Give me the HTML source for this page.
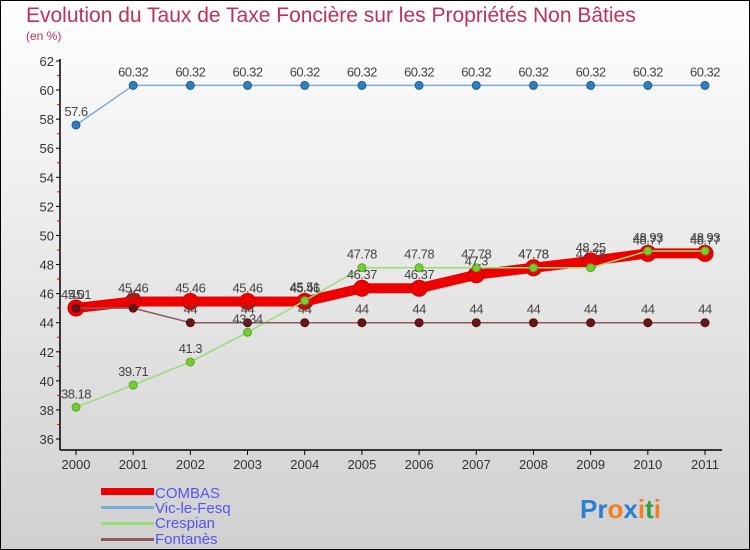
<!DOCTYPE html>
<html><head><meta charset="utf-8"><style>
body{margin:0}
svg{display:block;font-family:"Liberation Sans",sans-serif}
</style></head><body>
<svg width="750" height="550" viewBox="0 0 750 550">
<defs><linearGradient id="bg" x1="0" y1="0" x2="0" y2="1"><stop offset="0" stop-color="#ffffff"/><stop offset="1" stop-color="#d0d0d0"/></linearGradient></defs>
<rect x="0.5" y="0.5" width="749" height="549" fill="url(#bg)" stroke="#000"/>
<text x="26" y="22" font-size="21" fill="#c0305a">Evolution du Taux de Taxe Foncière sur les Propriétés Non Bâties</text>
<text x="26" y="40" font-size="12" fill="#c0305a">(en %)</text>
<g id="axes"></g>
<g id="series"></g>
<g id="labels"></g>
<g>
<rect x="101" y="488" width="53" height="7" fill="#ee0000"/>
<text x="155" y="498" font-size="15" fill="#5555ee">COMBAS</text>
<rect x="101" y="506" width="53" height="3" fill="#7aaed6"/>
<text x="155" y="513" font-size="15" fill="#5555ee">Vic-le-Fesq</text>
<rect x="101" y="522" width="53" height="3" fill="#99dd77"/>
<text x="155" y="528" font-size="15" fill="#5555ee">Crespian</text>
<rect x="101" y="538" width="53" height="3" fill="#8b5b5b"/>
<text x="155" y="544" font-size="15" fill="#5555ee">Fontanès</text>
</g>
<text x="580" y="518" font-size="26" font-weight="bold"><tspan fill="#2a7fd0">Pr</tspan><tspan fill="#f08020">o</tspan><tspan fill="#2a7fd0">x</tspan><tspan fill="#f08020">i</tspan><tspan fill="#30a040">t</tspan><tspan fill="#f08020">i</tspan></text>
</svg>
<script>
const years=["2000","2001","2002","2003","2004","2005","2006","2007","2008","2009","2010","2011"];
const yTicks=[36,38,40,42,44,46,48,50,52,54,56,58,60,62];
const combas=[45.01,45.46,45.46,45.46,45.46,46.37,46.37,47.3,47.78,48.25,48.77,48.77];
const vic=[57.6,60.32,60.32,60.32,60.32,60.32,60.32,60.32,60.32,60.32,60.32,60.32];
const crespian=[38.18,39.71,41.3,43.34,45.51,47.78,47.78,47.78,47.78,47.78,48.93,48.93];
const fontanes=[45,45,44,44,44,44,44,44,44,44,44,44];
const NS="http://www.w3.org/2000/svg";
const X=i=>76+i*(705-76)/11;
const Y=v=>439-(v-36)*(439-61)/26;
function mk(tag,attrs,parent,text){const e=document.createElementNS(NS,tag);for(const k in attrs)e.setAttribute(k,attrs[k]);if(text!==undefined)e.textContent=text;document.getElementById(parent).appendChild(e);return e;}
let e=mk('line',{x1:60,y1:59,x2:60,y2:450,stroke:'#000','stroke-width':1.5},'axes');


e=mk('line',{x1:60,y1:450,x2:722,y2:450,stroke:'#000','stroke-width':1.5},'axes');


yTicks.forEach((t,i)=>{
  mk('line',{x1:56,y1:Y(t),x2:60,y2:Y(t),stroke:'#000'},'axes');
  if(i<yTicks.length-1) mk('line',{x1:57,y1:Y(t+1),x2:60,y2:Y(t+1),stroke:'#e00'},'axes');
  const l=mk('text',{x:54,y:Y(t)+5,'font-size':13,'text-anchor':'end',fill:'#333'},'axes',String(t));
  
  
});
years.forEach((yr,i)=>{
  mk('line',{x1:X(i),y1:450,x2:X(i),y2:455,stroke:'#000'},'axes');
  const l=mk('text',{x:X(i),y:469,'font-size':13,'text-anchor':'middle',fill:'#333'},'axes',yr);
  
  
});
function series(vals,name,color,w,r,fill,stroke){
  const pts=vals.map((v,i)=>X(i)+','+Y(v)).join(' ');
  const p=mk('polyline',{points:pts,fill:'none',stroke:color,'stroke-width':w,'stroke-linejoin':'round'},'series');
  
  
  vals.forEach((v,i)=>{
    const c=mk('circle',{cx:X(i),cy:Y(v),r:r,fill:fill,stroke:stroke,'stroke-width':1},'series');
    
    
    const t=mk('text',{x:X(i),y:Y(v)-9,'font-size':13,'text-anchor':'middle',fill:'#444','letter-spacing':'-0.5'},'labels',String(v));
    
    
  });
}
series(vic,'vic','#7aaed6',1.5,4,'#2f7fc0','#1f5f90');
series(combas,'combas','#ee0000',10,8,'#ee0000','#cc0000');
series(crespian,'crespian','#99dd77',1.5,4,'#77cc33','#55aa22');
series(fontanes,'fontanes','#8b5b5b',1.5,4,'#6a1515','#501010');
</script>
</body></html>
